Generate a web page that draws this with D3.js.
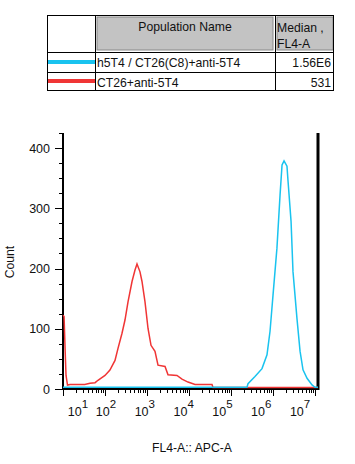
<!DOCTYPE html>
<html><head><meta charset="utf-8">
<script src="https://cdn.jsdelivr.net/npm/d3@7"></script>
<style>
html,body{margin:0;padding:0;background:#fff;}
svg{display:block;font-family:"Liberation Sans",Arial,sans-serif;}
</style></head>
<body>
<svg id="chart" width="355" height="464"></svg>
<script>
// ---- data ----
const populations = ["h5T4 / CT26(C8)+anti-5T4", "CT26+anti-5T4"];
const medians = ["1.56E6", "531"];
const seriesColors = ["#19c3ef", "#f03535"];
const headerCols = ["Population Name", "Median ,", "FL4-A"];

// red: CT26+anti-5T4 (fluorescence value, count)
const redX = [10, 10.6, 11.2, 11.8, 12.8, 14.7, 33, 44, 58, 68, 100, 131, 173, 204, 254, 299, 353, 440, 518, 578, 681, 760, 896, 1057, 1245, 1549, 1828, 2685, 3162, 5176, 6808, 9462, 13900, 35300, 37200, 1.18e7];
const redY = [120, 118, 65, 20, 4, 5, 5, 7, 8, 12, 20, 29, 45, 65, 90, 112, 142, 176, 195, 205, 192, 176, 142, 98, 70, 60, 37, 35, 21, 20, 14, 9, 5, 5, 0, 0];
// blue: h5T4 / CT26(C8)+anti-5T4
const blueX = [10, 2.40e5, 2.54e5, 3.72e5, 5.47e5, 7.19e5, 8.49e5, 1.0e6, 1.24e6, 1.47e6, 1.64e6, 1.83e6, 2.15e6, 2.28e6, 2.69e6, 2.99e6, 3.72e6, 4.40e6, 5.18e6, 6.46e6, 8.49e6, 1.0e7, 1.18e7];
const blueY = [0, 0, 6, 18, 31, 54, 93, 153, 231, 319, 369, 376, 367, 342, 275, 192, 114, 60, 29, 15, 4, 0, 0];

const yTicks = [0, 100, 200, 300, 400];
const xDecades = [1, 2, 3, 4, 5, 6, 7];
const xTitle = "FL4-A:: APC-A";
const yTitle = "Count";

// ---- layout ----
const svg = d3.select("#chart");
const plot = {left: 63, right: 318, top: 133, bottom: 389};
const x = d3.scaleLog().domain([10, Math.pow(10, 7.071)]).range([plot.left, plot.right]);
const y = d3.scaleLinear().domain([0, 425]).range([plot.bottom, plot.top]);
const FS = 12.2;

// ---- table ----
const tbl = {x0: 47, x1: 95, x2: 275, x3: 333, y0: 15, y1: 52, y2: 72, y3: 90};
const tg = svg.append("g");
tg.append("rect").attr("x", tbl.x1 + 2).attr("y", tbl.y0 + 2).attr("width", tbl.x2 - tbl.x1 - 4).attr("height", tbl.y1 - tbl.y0 - 4)
  .attr("fill", "#c3c3c3").attr("stroke", "#888").attr("stroke-width", 1);
tg.append("rect").attr("x", tbl.x2 + 2).attr("y", tbl.y0 + 2).attr("width", tbl.x3 - tbl.x2 - 2).attr("height", tbl.y1 - tbl.y0 - 4)
  .attr("fill", "#c3c3c3").attr("stroke", "#888").attr("stroke-width", 1);
tg.append("rect").attr("x", tbl.x0 + 0.5).attr("y", tbl.y0 + 0.5).attr("width", tbl.x3 - tbl.x0).attr("height", tbl.y3 - tbl.y0)
  .attr("fill", "none").attr("stroke", "#000").attr("stroke-width", 1);
[[tbl.x1, tbl.x1, tbl.y0, tbl.y3], [tbl.x2, tbl.x2, tbl.y0, tbl.y3],
 [tbl.x0, tbl.x3, tbl.y1, tbl.y1], [tbl.x0, tbl.x3, tbl.y2, tbl.y2]].forEach(l => {
  tg.append("line").attr("x1", l[0] + 0.5).attr("x2", l[1] + 0.5).attr("y1", l[2] + 0.5).attr("y2", l[3] + 0.5)
    .attr("stroke", "#000").attr("stroke-width", 1);
});
tg.append("text").attr("x", (tbl.x1 + tbl.x2) / 2).attr("y", 31).attr("text-anchor", "middle")
  .attr("font-size", FS).attr("fill", "#111").text(headerCols[0]);
tg.append("text").attr("x", tbl.x2 + 2).attr("y", 32).attr("font-size", FS).attr("fill", "#111").text(headerCols[1]);
tg.append("text").attr("x", tbl.x2 + 2).attr("y", 48).attr("font-size", FS).attr("fill", "#111").text(headerCols[2]);
const rowBase = [66.5, 86.5];
const rowMid = [62, 81];
populations.forEach((p, i) => {
  tg.append("line").attr("x1", tbl.x0 + 1).attr("x2", tbl.x1).attr("y1", rowMid[i]).attr("y2", rowMid[i])
    .attr("stroke", seriesColors[i]).attr("stroke-width", 4);
  tg.append("text").attr("x", tbl.x1 + 2).attr("y", rowBase[i]).attr("font-size", FS).attr("fill", "#111").text(p);
  tg.append("text").attr("x", tbl.x3 - 2).attr("y", rowBase[i]).attr("text-anchor", "end")
    .attr("font-size", FS).attr("fill", "#111").text(medians[i]);
});

// ---- axes ----
const ax = svg.append("g");
ax.append("line").attr("x1", plot.left).attr("x2", plot.left).attr("y1", plot.top).attr("y2", plot.bottom + 1)
  .attr("stroke", "#000").attr("stroke-width", 2);
ax.append("line").attr("x1", plot.right).attr("x2", plot.right).attr("y1", plot.top).attr("y2", plot.bottom + 1)
  .attr("stroke", "#000").attr("stroke-width", 3);
ax.append("line").attr("x1", plot.left - 1).attr("x2", plot.right + 1).attr("y1", plot.bottom).attr("y2", plot.bottom)
  .attr("stroke", "#000").attr("stroke-width", 2);

// y ticks
const yMinor = d3.range(0, 426, 25);
yMinor.forEach(v => {
  const major = v % 100 === 0;
  ax.append("line").attr("x1", plot.left - (major ? 8 : 4)).attr("x2", plot.left)
    .attr("y1", Math.round(y(v)) + 0.5).attr("y2", Math.round(y(v)) + 0.5).attr("stroke", "#000").attr("stroke-width", 1);
});
yTicks.forEach(v => {
  ax.append("text").attr("x", 50).attr("y", y(v) + 4.5).attr("text-anchor", "end")
    .attr("font-size", 12.5).attr("fill", "#111").text(v);
});

// x ticks
const xMinorVals = [];
xDecades.forEach(d => {
  for (let k = 1; k <= 9; k++) {
    const v = k * Math.pow(10, d);
    if (v <= x.domain()[1]) xMinorVals.push([v, k === 1]);
  }
});
xMinorVals.forEach(([v, major]) => {
  const px = Math.round(x(v)) + 0.5;
  ax.append("line").attr("x1", px).attr("x2", px).attr("y1", plot.bottom).attr("y2", plot.bottom + (major ? 7 : 4))
    .attr("stroke", "#000").attr("stroke-width", 1);
});
xDecades.forEach(d => {
  const px = Math.max(78, 0.924 * x(Math.pow(10, d)) + 9);
  const t = ax.append("text").attr("x", px).attr("y", 416).attr("text-anchor", "middle")
    .attr("font-size", 12.5).attr("fill", "#111");
  t.append("tspan").text("10");
  t.append("tspan").attr("dy", -8).attr("font-size", 11.5).text(d);
});

// ---- histograms ----
const line = d3.line().x(d => x(d[0])).y(d => y(d[1]));
const redData = redX.map((v, i) => [v, redY[i]]);
const blueData = blueX.map((v, i) => [v, blueY[i]]);
svg.append("path").datum(redData).attr("d", line).attr("fill", "none")
  .attr("stroke", seriesColors[1]).attr("stroke-width", 1.5).attr("transform", "translate(0,-1.5)");
svg.append("path").datum(blueData).attr("d", line).attr("fill", "none")
  .attr("stroke", seriesColors[0]).attr("stroke-width", 1.5).attr("transform", "translate(0,-1.7)");

// titles
svg.append("text").attr("x", 192).attr("y", 452).attr("text-anchor", "middle")
  .attr("font-size", FS).attr("fill", "#111").text(xTitle);
svg.append("text").attr("transform", "translate(14,262) rotate(-90)").attr("text-anchor", "middle")
  .attr("font-size", FS).attr("fill", "#111").text(yTitle);
</script>
</body></html>
